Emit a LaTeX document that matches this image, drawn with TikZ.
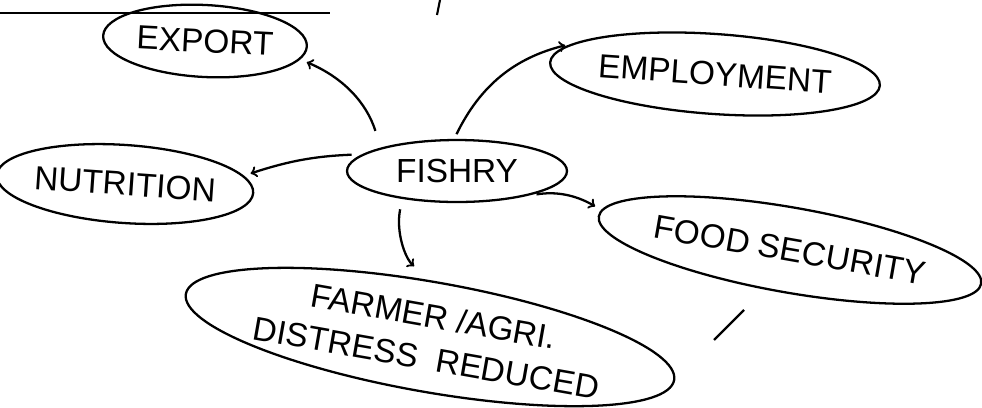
\documentclass[tikz,border=0pt]{standalone}
\usepackage{fontspec}
\setmainfont{Liberation Sans}
\usetikzlibrary{shapes.geometric}
\tikzset{
  bubble/.style={draw, ellipse, line width=1.3pt, inner sep=0pt, font=\fontsize{19}{24}\selectfont},
  link/.style={line width=1.3pt, ->, shorten <=6pt, shorten >=4pt}
}

\begin{document}
\begin{tikzpicture}[x=0.02cm, y=-0.02cm]
            \useasboundingbox (0,0) rectangle (982,407);
            % coordinates
            \coordinate (rule-left) at (0,13);
            \coordinate (rule-right) at (330,13);
            \coordinate (tick-top) at (440,0);
            \coordinate (tick-bottom) at (437,15);
            \coordinate (slash-low) at (714,340);
            \coordinate (slash-high) at (744,310);
            % ruled line at the top
            \draw[line width=0.8pt] (rule-left) -- (rule-right);
            \draw[line width=1.2pt] (tick-top) -- (tick-bottom);
            % centre
            \node[bubble, minimum width=4.4cm, minimum height=1.24cm] (fishry) at (457,171) {FISHRY};
            % outcomes
            \node[bubble, minimum width=4.08cm, minimum height=1.44cm, rotate=-3] (export) at (205,41) {EXPORT};
            \node[bubble, minimum width=6.4cm, minimum height=1.6cm, rotate=-4] (employment) at (715,74) {EMPLOYMENT};
            \node[bubble, minimum width=4.64cm, minimum height=1.56cm, rotate=-4] (nutrition) at (125,184) {NUTRITION};
            \node[bubble, minimum width=7.2cm, minimum height=1.7cm, rotate=-10] (security) at (790,250) {FOOD SECURITY};
            \node[bubble, minimum width=8.8cm, minimum height=2.2cm, rotate=-10, align=center] (distress) at (430,337) {FARMER /AGRI.\\DISTRESS \ REDUCED};
            % arrows out of the centre
            \draw[link, shorten <=10pt] (fishry.163) to[bend right=25] (export.-8);
            \draw[link, shorten <=3pt] (fishry.95) to[bend left=25] (employment.172);
            \draw[link] (fishry.170) to[bend right=8] (nutrition.8);
            \draw[link, shorten >=12pt] (fishry.-153) to[bend right=30] (distress.100);
            \draw[link] (fishry.-20) to[bend left=20] (security.178);
            % stray stroke
            \draw[line width=1.3pt] (slash-low) -- (slash-high);
        \end{tikzpicture}
\end{document}
